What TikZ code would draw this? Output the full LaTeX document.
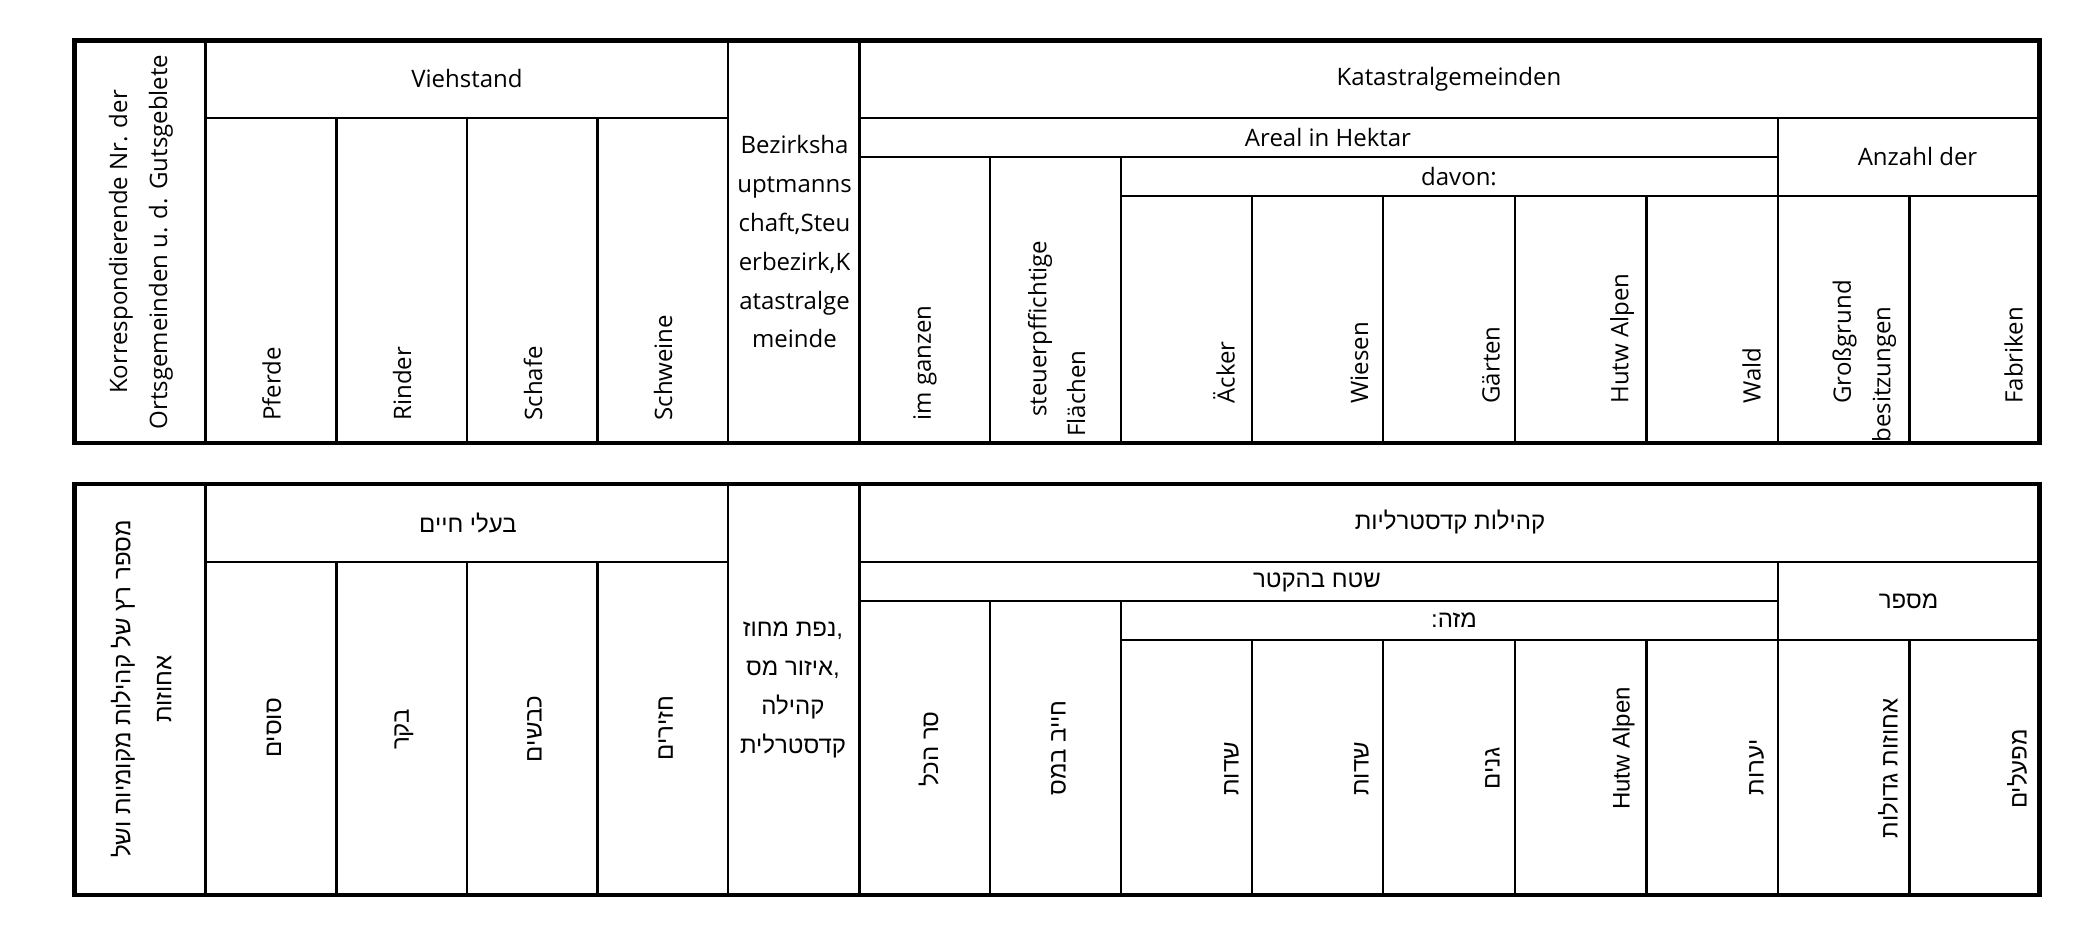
\documentclass[tikz,border=0pt]{standalone}
\usepackage{fontspec}
\setmainfont{Open Sans}
\newfontfamily\heb[Script=Hebrew]{Liberation Sans}
\TeXXeTstate=1
\tikzset{
  outerline/.style={line width=2.4pt},
  innerline/.style={line width=1.15pt},
  lbl/.style={inner sep=0pt, align=center, font=\fontsize{12}{19.4}\selectfont},
  rlbl/.style={lbl, rotate=90},
  hlbl/.style={inner sep=0pt, align=center, font=\heb\fontsize{12}{19.5}\selectfont},
  hrlbl/.style={hlbl, rotate=90}
}
\begin{document}
\begin{tikzpicture}[x=0.5pt,y=-0.5pt]
\useasboundingbox (0,0) rectangle (2082,951);
% ---------- grids of both tables ----------
\foreach \ta/\tb/\tc/\td/\te in {40.5/118.3/156.7/195.8/443, 484/561.7/600.7/640/895}{
  \draw[innerline] (205.4,\ta) -- (205.4,\te);
  \draw[innerline] (728,\ta) -- (728,\te);
  \draw[innerline] (859.5,\ta) -- (859.5,\te);
  \draw[innerline] (205.4,\tb) -- (728,\tb);
  \foreach \x in {336.5,467,597.5} \draw[innerline] (\x,\tb) -- (\x,\te);
  \draw[innerline] (859.5,\tb) -- (2039.5,\tb);
  \draw[innerline] (859.5,\tc) -- (1778,\tc);
  \draw[innerline] (1778,\tb) -- (1778,\te);
  \draw[innerline] (990.3,\tc) -- (990.3,\te);
  \draw[innerline] (1121.2,\tc) -- (1121.2,\te);
  \draw[innerline] (1121.2,\td) -- (2039.5,\td);
  \foreach \x in {1251.7,1383,1515,1646.5,1909.5} \draw[innerline] (\x,\td) -- (\x,\te);
  \draw[outerline] (74.5,\ta) rectangle (2039.5,\te);
}
% ---------- top table (German) ----------
\node[rlbl, font=\fontsize{12}{20}\selectfont] (korr) at (141,242) {Korrespondierende Nr. der\\Ortsgemeinden u. d. Gutsgeblete};
\node[lbl] (vieh) at (467,79) {Viehstand};
\node[lbl] (kat) at (1449,79) {Katastralgemeinden};
\node[lbl] (areal) at (1328,137.5) {Areal in Hektar};
\node[lbl] (davon) at (1459,176.5) {davon:};
\node[lbl] (anzahl) at (1917.5,157) {Anzahl der};
\node[lbl] (bezirk) at (794.5,242) {Bezirksha\\uptmanns\\chaft,Steu\\erbezirk,K\\atastralge\\meinde};
\node[rlbl, anchor=west] (pferde) at (271.5,421) {Pferde};
\node[rlbl, anchor=west] (rinder) at (402,421) {Rinder};
\node[rlbl, anchor=west] (schafe) at (533,421) {Schafe};
\node[rlbl, anchor=west] (schweine) at (663,421) {Schweine};
\node[rlbl, anchor=west] (imganzen) at (925,421) {im ganzen};
\node[rlbl, anchor=west] (steuer) at (1040,417) {steuerpffichtige};
\node[rlbl, anchor=west] (flaechen) at (1076,437) {Flächen};
\node[rlbl, anchor=west] (aecker) at (1224,404) {Äcker};
\node[rlbl, anchor=west] (wiesen) at (1359.5,404) {Wiesen};
\node[rlbl, anchor=west] (gaerten) at (1491,404) {Gärten};
\node[rlbl, anchor=west] (hutwa) at (1622,404) {Hutw Alpen};
\node[rlbl, anchor=west] (wald) at (1751.5,404) {Wald};
\node[rlbl, anchor=west] (grossg) at (1844.5,404) {Großgrund};
\node[rlbl, anchor=west] (besitz) at (1884,443) {besitzungen};
\node[rlbl, anchor=west] (fabriken) at (2013.5,404) {Fabriken};
% ---------- bottom table (Hebrew) ----------
\node[hrlbl, font=\heb\fontsize{12}{20.5}\selectfont] (mispar) at (141,689) {\beginR מספר רץ של קהילות מקומיות ושל\endR\\\beginR אחוזות\endR};
\node[hlbl] (baalei) at (468,523) {\beginR בעלי חיים\endR};
\node[hlbl] (kehilot) at (1450,522) {\beginR קהילות קדסטרליות\endR};
\node[hlbl] (shetach) at (1317,582) {\beginR שטח בהקטר\endR};
\node[hlbl] (mize) at (1454,620) {\beginR מזה\kern0pt:\endR};
\node[hlbl] (mispar2) at (1908.5,601) {\beginR מספר\endR};
\node[hlbl] (nafa) at (793,690) {\beginR נפת מחוז\endR,\\\beginR איזור מס\endR,\\\beginR קהילה\endR\\\beginR קדסטרלית\endR};
\node[hrlbl] (susim) at (274,728) {\beginR סוסים\endR};
\node[hrlbl] (bakar) at (404,729.5) {\beginR בקר\endR};
\node[hrlbl] (kvasim) at (534.5,729) {\beginR כבשים\endR};
\node[hrlbl] (chazirim) at (665.5,728) {\beginR חזירים\endR};
\node[hrlbl] (sach) at (928.5,749) {\beginR סר הכל\endR};
\node[hrlbl] (chayav) at (1058.5,748) {\beginR חייב במס\endR};
\node[hrlbl] (sadot1) at (1231.5,769) {\beginR שדות\endR};
\node[hrlbl] (sadot2) at (1361.5,769) {\beginR שדות\endR};
\node[hrlbl] (ganim) at (1492.5,768.5) {\beginR גנים\endR};
\node[hrlbl] (hutwb) at (1623.5,748.5) {Hutw Alpen};
\node[hrlbl] (yaarot) at (1756.5,767.5) {\beginR יערות\endR};
\node[hrlbl] (achuzot) at (1888,768.5) {\beginR אחוזות גדולות\endR};
\node[hrlbl] (mifalim) at (2017,769) {\beginR מפעלים\endR};
\end{tikzpicture}
\end{document}
